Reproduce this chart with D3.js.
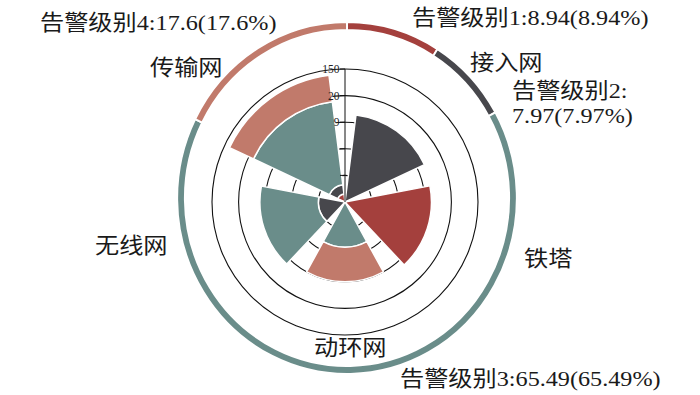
<!DOCTYPE html>
<html><head><meta charset="utf-8">
<script src="https://cdn.jsdelivr.net/npm/d3@7"></script>
<style>html,body{margin:0;padding:0;background:#fff;}svg{display:block;}</style>
</head><body>
<svg id="chart" width="700" height="395"></svg>
<script>
// ---- data ----
const categories = ['接入网', '铁塔', '动环网', '无线网', '传输网'];
const levels = ['告警级别1', '告警级别2', '告警级别3', '告警级别4'];
// stacked radial values per level (radial-axis units)
const level1 = [0, 3.25, 0, 0, 0.3];
const level2 = [3.3, 0, 0, 1.0, 0.35];
const level3 = [0, 0, 1.7, 2.2, 3.15];
const level4 = [0, 0, 1.3, 0, 1.0];
// outer ring shares
const shares = [8.94, 7.97, 65.49, 17.6];
const shareLabels = ['告警级别1:8.94(8.94%)', '告警级别2:7.97(7.97%)', '告警级别3:65.49(65.49%)', '告警级别4:17.6(17.6%)'];
// radial axis ticks
const radialTicks = [1, 2, 3, 4, 5];
const radialTickLabels = ['', '', '9', '20', '150'];

const colors = ['#a4403d', '#47474c', '#6a8d8a', '#c17a6b'];

const svg = d3.select('#chart');
const cx = 345, cy = 202;
const g = svg.append('g').attr('transform', `translate(${cx},${cy})`);

const r = d3.scaleLinear().domain([0, 5]).range([0, 133]);
const ang = d3.scaleBand().domain(categories).range([0, 2 * Math.PI]).paddingInner(0.2).paddingOuter(0.1);

// split circles
g.selectAll('circle.split').data(radialTicks).join('circle')
  .attr('class', 'split').attr('r', d => r(d))
  .attr('fill', 'none').attr('stroke', '#111').attr('stroke-width', 1.1);

// stacked bars
const rows = categories.map((c, i) => ({cat: c, [levels[0]]: level1[i], [levels[1]]: level2[i], [levels[2]]: level3[i], [levels[3]]: level4[i]}));
const stacked = d3.stack().keys(levels)(rows);
const arcBar = d3.arc();
stacked.forEach((layer, li) => {
  g.append('g').selectAll('path').data(layer.filter(d => d[1] - d[0] > 0)).join('path')
    .attr('d', d => arcBar({
      innerRadius: r(d[0]), outerRadius: r(d[1]),
      startAngle: ang(d.data.cat), endAngle: ang(d.data.cat) + ang.bandwidth()
    }))
    .attr('fill', colors[li]).attr('stroke', '#fff').attr('stroke-width', 1.5);
});

// radial axis
const axisG = g.append('g');
axisG.append('line').attr('x1', 0).attr('y1', 0).attr('x2', 0).attr('y2', -r(5))
  .attr('stroke', '#111').attr('stroke-width', 1);
axisG.selectAll('line.tick').data(radialTicks).join('line').attr('class', 'tick')
  .attr('x1', -5).attr('x2', 0).attr('y1', d => -r(d)).attr('y2', d => -r(d))
  .attr('stroke', '#111').attr('stroke-width', 1);
axisG.selectAll('text').data(radialTicks).join('text')
  .attr('x', -5.5).attr('y', d => -r(d) + 4)
  .attr('text-anchor', 'end')
  .attr('font-family', '"Liberation Serif", serif').attr('font-size', 11.5).attr('fill', '#222')
  .text((d, i) => radialTickLabels[i]);

// outer ring (pie)
const ringG = svg.append('g').attr('transform', `translate(347,198) scale(0.965,1)`);
const pie = d3.pie().sort(null).value(d => d);
const ringArc = d3.arc().innerRadius(168).outerRadius(176);
ringG.selectAll('path').data(pie(shares)).join('path')
  .attr('d', ringArc).attr('fill', (d, i) => colors[i])
  .attr('stroke', '#fff').attr('stroke-width', 2);

// labels
const labelFont = '"Liberation Serif", "Noto Sans CJK SC", serif';
function label(txt, x, y) {
  svg.append('text').attr('transform', `translate(${x},${y}) scale(1.1,1)`)
    .attr('font-family', labelFont).attr('font-size', 22).attr('fill', '#1a1a1a')
    .text(txt);
}
label(shareLabels[3], 40, 30);
label(shareLabels[0], 412, 25);
label('告警级别2:', 512, 98);
label('7.97(7.97%)', 512, 123);
label(shareLabels[2], 400, 386);
label(categories[0], 470, 70);
label(categories[4], 150, 75);
label(categories[3], 95, 253);
label(categories[1], 524, 266);
label(categories[2], 314, 355);
</script>
</body></html>
